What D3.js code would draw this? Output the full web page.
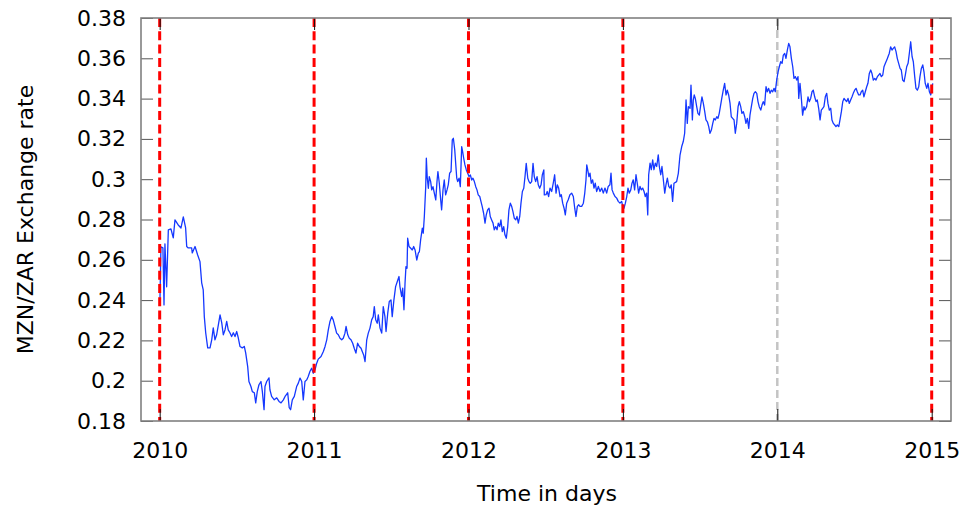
<!DOCTYPE html>
<html>
<head>
<meta charset="utf-8">
<script src="https://cdn.jsdelivr.net/npm/d3@7"></script>
<style>
  html, body { margin: 0; padding: 0; background: #fff; }
  svg { display: block; font-family: "DejaVu Sans", Verdana, sans-serif; }
</style>
</head>
<body>
<svg id="chart" width="965" height="513"></svg>
<script>
// Time of each observation, in decimal years
const years = [
  2010.002, 2010.008, 2010.021, 2010.028, 2010.034, 2010.045, 2010.056, 2010.073, 2010.088, 2010.099,
  2010.120, 2010.138, 2010.153, 2010.168, 2010.175, 2010.185, 2010.207, 2010.211, 2010.229, 2010.246,
  2010.261, 2010.272, 2010.282, 2010.289, 2010.298, 2010.311, 2010.326, 2010.337, 2010.347, 2010.358,
  2010.369, 2010.380, 2010.391, 2010.402, 2010.412, 2010.423, 2010.434, 2010.444, 2010.455, 2010.466,
  2010.477, 2010.488, 2010.499, 2010.509, 2010.520, 2010.535, 2010.548, 2010.557, 2010.570, 2010.578,
  2010.591, 2010.600, 2010.613, 2010.622, 2010.632, 2010.643, 2010.656, 2010.665, 2010.676, 2010.682,
  2010.693, 2010.708, 2010.714, 2010.725, 2010.742, 2010.758, 2010.773, 2010.786, 2010.801, 2010.812,
  2010.829, 2010.839, 2010.848, 2010.859, 2010.872, 2010.887, 2010.898, 2010.909, 2010.920, 2010.930,
  2010.941, 2010.952, 2010.962, 2010.973, 2010.984, 2010.995, 2011.006, 2011.017, 2011.027, 2011.045,
  2011.060, 2011.071, 2011.082, 2011.092, 2011.103, 2011.114, 2011.124, 2011.135, 2011.146, 2011.157,
  2011.168, 2011.179, 2011.189, 2011.200, 2011.207, 2011.218, 2011.228, 2011.239, 2011.250, 2011.260,
  2011.271, 2011.282, 2011.293, 2011.304, 2011.312, 2011.321, 2011.330, 2011.341, 2011.351, 2011.362,
  2011.373, 2011.383, 2011.390, 2011.399, 2011.409, 2011.416, 2011.427, 2011.438, 2011.448, 2011.459,
  2011.466, 2011.477, 2011.487, 2011.498, 2011.506, 2011.517, 2011.528, 2011.539, 2011.550, 2011.556,
  2011.567, 2011.574, 2011.582, 2011.589, 2011.595, 2011.602, 2011.606, 2011.615, 2011.626, 2011.636,
  2011.645, 2011.654, 2011.665, 2011.675, 2011.682, 2011.690, 2011.701, 2011.707, 2011.714, 2011.723,
  2011.727, 2011.733, 2011.740, 2011.746, 2011.755, 2011.762, 2011.770, 2011.779, 2011.788, 2011.796,
  2011.802, 2011.811, 2011.820, 2011.826, 2011.835, 2011.843, 2011.852, 2011.861, 2011.869, 2011.878,
  2011.887, 2011.895, 2011.902, 2011.911, 2011.917, 2011.924, 2011.930, 2011.939, 2011.947, 2011.956,
  2011.962, 2011.969, 2011.977, 2011.986, 2011.995, 2012.003, 2012.012, 2012.021, 2012.029, 2012.038,
  2012.047, 2012.055, 2012.063, 2012.073, 2012.081, 2012.089, 2012.098, 2012.107, 2012.115, 2012.124,
  2012.133, 2012.141, 2012.150, 2012.159, 2012.167, 2012.176, 2012.185, 2012.193, 2012.202, 2012.210,
  2012.219, 2012.228, 2012.236, 2012.245, 2012.254, 2012.262, 2012.271, 2012.280, 2012.288, 2012.297,
  2012.306, 2012.314, 2012.323, 2012.332, 2012.340, 2012.349, 2012.358, 2012.366, 2012.374, 2012.384,
  2012.392, 2012.400, 2012.409, 2012.418, 2012.426, 2012.435, 2012.444, 2012.452, 2012.461, 2012.470,
  2012.478, 2012.488, 2012.491, 2012.502, 2012.510, 2012.519, 2012.528, 2012.539, 2012.549, 2012.558,
  2012.567, 2012.575, 2012.584, 2012.593, 2012.601, 2012.610, 2012.619, 2012.627, 2012.636, 2012.646,
  2012.657, 2012.668, 2012.679, 2012.688, 2012.696, 2012.705, 2012.714, 2012.722, 2012.733, 2012.744,
  2012.753, 2012.761, 2012.766, 2012.772, 2012.780, 2012.787, 2012.795, 2012.804, 2012.813, 2012.821,
  2012.830, 2012.841, 2012.852, 2012.863, 2012.873, 2012.884, 2012.895, 2012.905, 2012.916, 2012.923,
  2012.930, 2012.938, 2012.949, 2012.960, 2012.970, 2012.981, 2012.992, 2012.999, 2013.007, 2013.016,
  2013.025, 2013.033, 2013.041, 2013.051, 2013.059, 2013.067, 2013.076, 2013.085, 2013.093, 2013.102,
  2013.111, 2013.119, 2013.128, 2013.137, 2013.145, 2013.154, 2013.161, 2013.167, 2013.176, 2013.184,
  2013.193, 2013.201, 2013.210, 2013.219, 2013.229, 2013.236, 2013.245, 2013.253, 2013.262, 2013.271,
  2013.279, 2013.288, 2013.297, 2013.305, 2013.313, 2013.322, 2013.331, 2013.348, 2013.359, 2013.370,
  2013.381, 2013.391, 2013.400, 2013.409, 2013.417, 2013.424, 2013.435, 2013.441, 2013.450, 2013.456,
  2013.462, 2013.469, 2013.478, 2013.486, 2013.495, 2013.504, 2013.512, 2013.521, 2013.530, 2013.538,
  2013.547, 2013.556, 2013.564, 2013.573, 2013.582, 2013.590, 2013.598, 2013.608, 2013.616, 2013.624,
  2013.633, 2013.642, 2013.650, 2013.659, 2013.668, 2013.676, 2013.685, 2013.694, 2013.702, 2013.711,
  2013.720, 2013.728, 2013.737, 2013.746, 2013.754, 2013.763, 2013.771, 2013.780, 2013.789, 2013.797,
  2013.806, 2013.815, 2013.823, 2013.832, 2013.841, 2013.849, 2013.858, 2013.867, 2013.875, 2013.883,
  2013.893, 2013.901, 2013.909, 2013.918, 2013.927, 2013.935, 2013.944, 2013.953, 2013.961, 2013.970,
  2013.979, 2013.987, 2013.996, 2014.005, 2014.013, 2014.022, 2014.031, 2014.039, 2014.048, 2014.056,
  2014.065, 2014.074, 2014.082, 2014.091, 2014.100, 2014.108, 2014.117, 2014.126, 2014.134, 2014.139,
  2014.147, 2014.155, 2014.164, 2014.173, 2014.179, 2014.190, 2014.199, 2014.207, 2014.216, 2014.225,
  2014.233, 2014.242, 2014.251, 2014.259, 2014.268, 2014.277, 2014.285, 2014.294, 2014.302, 2014.311,
  2014.320, 2014.328, 2014.337, 2014.346, 2014.354, 2014.363, 2014.372, 2014.380, 2014.389, 2014.398,
  2014.406, 2014.415, 2014.424, 2014.432, 2014.440, 2014.449, 2014.458, 2014.466, 2014.475, 2014.484,
  2014.492, 2014.501, 2014.510, 2014.518, 2014.527, 2014.536, 2014.544, 2014.553, 2014.561, 2014.570,
  2014.579, 2014.587, 2014.596, 2014.605, 2014.613, 2014.622, 2014.631, 2014.639, 2014.648, 2014.657,
  2014.665, 2014.674, 2014.683, 2014.691, 2014.700, 2014.709, 2014.717, 2014.725, 2014.734, 2014.743,
  2014.751, 2014.760, 2014.769, 2014.777, 2014.786, 2014.795, 2014.803, 2014.812, 2014.821, 2014.829,
  2014.838, 2014.847, 2014.855, 2014.864, 2014.873, 2014.881, 2014.890, 2014.898, 2014.907, 2014.916,
  2014.924, 2014.933, 2014.942, 2014.950, 2014.958, 2014.968, 2014.976, 2014.985, 2014.994, 2015.002,
  2015.007
];

// MZN/ZAR exchange rate at each observation
const rates = [
  0.2411, 0.2664, 0.2659, 0.2376, 0.2679, 0.2466, 0.2748, 0.2753, 0.2709, 0.2798,
  0.2773, 0.2758, 0.2813, 0.2758, 0.2666, 0.2659, 0.2659, 0.2634, 0.2666, 0.2624,
  0.2591, 0.2486, 0.2451, 0.2318, 0.2238, 0.2163, 0.2163, 0.2203, 0.2262, 0.2203,
  0.2228, 0.2277, 0.2327, 0.2287, 0.2228, 0.2252, 0.2294, 0.2252, 0.2238, 0.2219,
  0.2238, 0.2219, 0.2244, 0.2213, 0.2170, 0.2163, 0.2170, 0.2138, 0.2070, 0.1996,
  0.1971, 0.1946, 0.1940, 0.1890, 0.1946, 0.1980, 0.1996, 0.1946, 0.1856, 0.1971,
  0.1996, 0.2014, 0.1955, 0.1922, 0.1905, 0.1915, 0.1897, 0.1890, 0.1905, 0.1922,
  0.1940, 0.1866, 0.1856, 0.1905, 0.1922, 0.1971, 0.1988, 0.2013, 0.1996, 0.1905,
  0.1996, 0.2004, 0.2021, 0.2046, 0.2062, 0.2037, 0.2054, 0.2087, 0.2107, 0.2120,
  0.2145, 0.2170, 0.2203, 0.2252, 0.2294, 0.2318, 0.2302, 0.2269, 0.2236, 0.2228,
  0.2211, 0.2203, 0.2211, 0.2236, 0.2269, 0.2228, 0.2211, 0.2203, 0.2186, 0.2161,
  0.2137, 0.2186, 0.2170, 0.2161, 0.2145, 0.2128, 0.2095, 0.2203, 0.2236, 0.2261,
  0.2302, 0.2318, 0.2368, 0.2302, 0.2285, 0.2327, 0.2261, 0.2236, 0.2368, 0.2318,
  0.2244, 0.2335, 0.2393, 0.2401, 0.2318, 0.2401, 0.2467, 0.2492, 0.2517, 0.2467,
  0.2418, 0.2459, 0.2352, 0.2484, 0.2566, 0.2558, 0.2707, 0.2666, 0.2657, 0.2649,
  0.2666, 0.2649, 0.2599, 0.2633, 0.2641, 0.2699, 0.2757, 0.2732, 0.2815, 0.2963,
  0.3104, 0.3005, 0.2955, 0.3013, 0.2988, 0.2947, 0.2963, 0.2930, 0.2897, 0.2988,
  0.3038, 0.2980, 0.2897, 0.2848, 0.2947, 0.2996, 0.2922, 0.2947, 0.2972, 0.3030,
  0.3038, 0.3195, 0.3203, 0.3145, 0.3079, 0.3005, 0.2988, 0.3005, 0.2963, 0.3162,
  0.3137, 0.3104, 0.3071, 0.3046, 0.3030, 0.3013, 0.3021, 0.2996, 0.3005, 0.2988,
  0.2963, 0.2947, 0.2922, 0.2914, 0.2889, 0.2864, 0.2831, 0.2782, 0.2823, 0.2848,
  0.2856, 0.2815, 0.2798, 0.2782, 0.2749, 0.2765, 0.2749, 0.2782, 0.2765, 0.2798,
  0.2740, 0.2765, 0.2724, 0.2707, 0.2765, 0.2848, 0.2881, 0.2864, 0.2839, 0.2806,
  0.2798, 0.2815, 0.2782, 0.2815, 0.2881, 0.2939, 0.2955, 0.3013, 0.3079, 0.3005,
  0.2988, 0.2980, 0.2988, 0.3079, 0.3013, 0.2988, 0.3013, 0.2972, 0.2955, 0.2972,
  0.3021, 0.3046, 0.2922, 0.2923, 0.2939, 0.2914, 0.2956, 0.2939, 0.2980, 0.3022,
  0.2931, 0.2972, 0.2956, 0.2914, 0.2923, 0.2881, 0.2856, 0.2823, 0.2881, 0.2898,
  0.2923, 0.2931, 0.2914, 0.2856, 0.2815, 0.2865, 0.2873, 0.2865, 0.2865, 0.2881,
  0.2931, 0.2997, 0.3071, 0.3047, 0.3013, 0.3030, 0.2980, 0.2997, 0.2956, 0.2980,
  0.2939, 0.2964, 0.2939, 0.2956, 0.2931, 0.2956, 0.2931, 0.2964, 0.2972, 0.3030,
  0.2947, 0.2931, 0.2914, 0.2906, 0.2890, 0.2881, 0.2890, 0.2865, 0.2856, 0.2881,
  0.2914, 0.2956, 0.2931, 0.2947, 0.2980, 0.2997, 0.2947, 0.3022, 0.2980, 0.2931,
  0.2964, 0.2947, 0.2956, 0.2939, 0.2914, 0.2931, 0.2823, 0.3022, 0.3080, 0.3047,
  0.3096, 0.3047, 0.3080, 0.3063, 0.3121, 0.3063, 0.3022, 0.3063, 0.2997, 0.2931,
  0.2972, 0.3005, 0.2964, 0.2956, 0.2972, 0.2890, 0.2980, 0.2988, 0.3029, 0.3120,
  0.3162, 0.3187, 0.3228, 0.3393, 0.3277, 0.3360, 0.3352, 0.3467, 0.3294, 0.3393,
  0.3418, 0.3401, 0.3360, 0.3327, 0.3318, 0.3368, 0.3409, 0.3376, 0.3335, 0.3294,
  0.3285, 0.3261, 0.3228, 0.3244, 0.3277, 0.3302, 0.3294, 0.3310, 0.3302, 0.3327,
  0.3368, 0.3409, 0.3442, 0.3476, 0.3418, 0.3442, 0.3418, 0.3376, 0.3310, 0.3302,
  0.3294, 0.3228, 0.3277, 0.3360, 0.3385, 0.3360, 0.3327, 0.3335, 0.3310, 0.3277,
  0.3302, 0.3252, 0.3318, 0.3360, 0.3401, 0.3426, 0.3434, 0.3426, 0.3385, 0.3360,
  0.3343, 0.3368, 0.3385, 0.3368, 0.3459, 0.3434, 0.3451, 0.3426, 0.3442, 0.3434,
  0.3451, 0.3434, 0.3492, 0.3533, 0.3558, 0.3583, 0.3575, 0.3616, 0.3624, 0.3600,
  0.3641, 0.3674, 0.3657, 0.3600, 0.3558, 0.3500, 0.3509, 0.3492, 0.3509, 0.3401,
  0.3476, 0.3409, 0.3318, 0.3360, 0.3343, 0.3360, 0.3409, 0.3385, 0.3401, 0.3434,
  0.3442, 0.3409, 0.3385, 0.3393, 0.3352, 0.3294, 0.3343, 0.3352, 0.3360, 0.3409,
  0.3426, 0.3376, 0.3343, 0.3352, 0.3294, 0.3277, 0.3269, 0.3261, 0.3269, 0.3261,
  0.3294, 0.3335, 0.3385, 0.3401, 0.3393, 0.3385, 0.3401, 0.3376, 0.3393, 0.3409,
  0.3426, 0.3442, 0.3451, 0.3434, 0.3418, 0.3418, 0.3434, 0.3442, 0.3409, 0.3434,
  0.3459, 0.3476, 0.3525, 0.3542, 0.3525, 0.3492, 0.3500, 0.3492, 0.3509, 0.3517,
  0.3525, 0.3509, 0.3517, 0.3558, 0.3575, 0.3591, 0.3608, 0.3624, 0.3657, 0.3641,
  0.3649, 0.3657, 0.3633, 0.3600, 0.3575, 0.3550, 0.3542, 0.3492, 0.3484, 0.3517,
  0.3558, 0.3575, 0.3624, 0.3682, 0.3608, 0.3583, 0.3509, 0.3451, 0.3442, 0.3459,
  0.3509, 0.3550, 0.3567, 0.3533, 0.3476, 0.3451, 0.3476, 0.3434, 0.3418, 0.3459,
  0.3476
];

const yearTicks = [2010, 2011, 2012, 2013, 2014, 2015];
const rateTicks = [0.18, 0.2, 0.22, 0.24, 0.26, 0.28, 0.3, 0.32, 0.34, 0.36, 0.38];
const redMarkerYears = [2010, 2011, 2012, 2013, 2015];
const grayMarkerYears = [2014];

const plot = { left: 141, right: 951, top: 18, bottom: 421 };
const tickLen = 12;

const svg = d3.select("#chart");

const x = d3.scaleLinear().domain([2009.879, 2015.125]).range([plot.left, plot.right]);
const y = d3.scaleLinear().domain([0.18, 0.38]).range([plot.bottom, plot.top]);

const data = years.map((t, i) => ({ t, v: rates[i] }));

// Light grey year marker (drawn beneath the series)
svg.append("g").selectAll("line").data(grayMarkerYears).join("line")
  .attr("x1", d => x(d)).attr("x2", d => x(d))
  .attr("y1", plot.top).attr("y2", plot.bottom)
  .attr("stroke", "#c4c4c4").attr("stroke-width", 2.5)
  .attr("stroke-dasharray", "8,4");

// Exchange-rate series
svg.append("path")
  .datum(data)
  .attr("fill", "none")
  .attr("stroke", "#1538ff")
  .attr("stroke-width", 1.3)
  .attr("stroke-linejoin", "round")
  .attr("d", d3.line().x(d => x(d.t)).y(d => y(d.v)));

// Red year markers
svg.append("g").selectAll("line").data(redMarkerYears).join("line")
  .attr("x1", d => x(d)).attr("x2", d => x(d))
  .attr("y1", plot.top).attr("y2", plot.bottom)
  .attr("stroke", "#ff0000").attr("stroke-width", 3)
  .attr("stroke-dasharray", "9,4.3");

const rateFmt = d => String(+d.toFixed(2));

function styleAxis(g, color) {
  g.select(".domain").remove();
  g.selectAll(".tick line").attr("stroke", color).attr("stroke-width", 1);
  g.selectAll(".tick text")
    .attr("fill", "#000")
    .style("font-family", "'DejaVu Sans', Verdana, sans-serif")
    .style("font-size", "22px");
}

svg.append("g")
  .attr("transform", `translate(${plot.left},0)`)
  .call(d3.axisLeft(y).tickValues(rateTicks).tickFormat(rateFmt).tickSize(-tickLen).tickPadding(15))
  .call(g => styleAxis(g, "#555"));

svg.append("g")
  .attr("transform", `translate(${plot.right},0)`)
  .call(d3.axisRight(y).tickValues(rateTicks).tickFormat(() => "").tickSize(-tickLen))
  .call(g => styleAxis(g, "#555"));

svg.append("g")
  .attr("transform", `translate(0,${plot.bottom})`)
  .call(d3.axisBottom(x).tickValues(yearTicks).tickFormat(d3.format("d")).tickSize(-tickLen).tickPadding(21))
  .call(g => styleAxis(g, "#111"));

svg.append("g")
  .attr("transform", `translate(0,${plot.top})`)
  .call(d3.axisTop(x).tickValues(yearTicks).tickFormat(() => "").tickSize(-tickLen))
  .call(g => styleAxis(g, "#111"));

// Plot frame
svg.append("rect")
  .attr("x", plot.left).attr("y", plot.top)
  .attr("width", plot.right - plot.left).attr("height", plot.bottom - plot.top)
  .attr("fill", "none").attr("stroke", "#808080").attr("stroke-width", 1.6);

// Axis titles
svg.append("text")
  .attr("x", (plot.left + plot.right) / 2 + 1)
  .attr("y", 501)
  .attr("text-anchor", "middle")
  .style("font-size", "22px")
  .attr("fill", "#000")
  .text("Time in days");

svg.append("text")
  .attr("transform", `translate(33,${(plot.top + plot.bottom) / 2}) rotate(-90)`)
  .attr("text-anchor", "middle")
  .style("font-size", "22px")
  .attr("fill", "#000")
  .text("MZN/ZAR Exchange rate");
</script>
</body>
</html>
